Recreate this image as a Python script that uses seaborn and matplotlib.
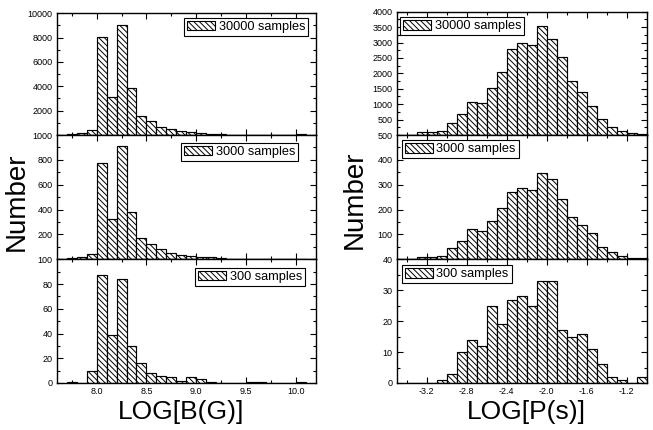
import numpy as np
import pandas as pd
import matplotlib
matplotlib.use("Agg")
import matplotlib.pyplot as plt
from matplotlib.ticker import MultipleLocator, FixedLocator
from matplotlib.patches import Patch
import seaborn as sns

# ---------------- data ----------------
# LOG[B(G)] histogram: bins of width 0.1 starting at 7.7
b_start = 7.7
b_width = 0.1
b_counts_30000 = [100, 200, 400, 8050, 3110, 9050, 3870, 1600, 1190, 680, 460, 300,
                  220, 130, 110, 100, 35, 30, 30, 25, 25, 10, 10, 50]
b_counts_3000 = [10, 16, 44, 775, 323, 914, 380, 169, 121, 81, 48, 38,
                 30, 19, 16, 11, 5, 5, 5, 5, 3, 3, 3, 5]
b_counts_300 = [1, 0, 10, 87, 39, 84, 30, 16, 8, 6, 5, 2,
                5, 3, 1, 0, 0, 0, 1, 1, 0, 0, 0, 1]

# LOG[P(s)] histogram: bins of width 0.1 starting at -3.4
p_start = -3.4
p_width = 0.1
p_counts_30000 = [0, 90, 95, 125, 405, 675, 1060, 1025, 1520, 2030, 2775, 2970,
                  2925, 3530, 3130, 2515, 1750, 1400, 940, 520, 265, 130, 55, 30]
p_counts_3000 = [0, 10, 9, 13, 45, 72, 121, 113, 153, 205, 270, 286,
                 278, 346, 321, 244, 172, 138, 105, 51, 31, 13, 4, 4]
p_counts_300 = [0, 0, 0, 1, 3, 10, 14, 12, 25, 19, 27, 28,
                25, 33, 33, 17, 15, 16, 11, 6, 2, 1, 0, 2]

sample_labels = ["30000 samples", "3000 samples", "300 samples"]
b_xticks = [8.0, 8.5, 9.0, 9.5, 10.0]
p_xticks = [-3.2, -2.8, -2.4, -2.0, -1.6, -1.2]

# ---------------- style ----------------
sns.set_style("ticks")
plt.rcParams["font.family"] = ["Liberation Sans", "DejaVu Sans"]
plt.rcParams["text.color"] = "black"
plt.rcParams["axes.labelcolor"] = "black"
plt.rcParams["hatch.linewidth"] = 0.7
plt.rcParams["hatch.color"] = "black"

HATCH = "\\" * 6
W, H = 653, 430
fig = plt.figure(figsize=(W / 100, H / 100), dpi=100)


def axes_rect(x0, x1, y0, y1):
    return [x0 / W, 1 - y1 / H, (x1 - x0) / W, (y1 - y0) / H]


def edges_from(start, width, n):
    return [round(start + width * i, 4) for i in range(n + 1)]


def draw(rect, start, width, counts, label, ymax, ystep, yminor, show_zero,
         xlim, xticks, xminor, bottom, loc, anchor):
    ax = fig.add_axes(rect)
    edges = edges_from(start, width, len(counts))
    centers = [(a + b) / 2 for a, b in zip(edges[:-1], edges[1:])]
    df = pd.DataFrame({"x": centers, "n": counts})
    sns.histplot(data=df, x="x", weights="n", bins=edges, ax=ax,
                 color="white", edgecolor="black", linewidth=0.85, alpha=1,
                 hatch=HATCH)
    ax.set_xlim(*xlim)
    ax.set_ylim(0, ymax)
    yt = np.arange(0 if show_zero else ystep, ymax + ystep / 2, ystep)
    ax.yaxis.set_major_locator(FixedLocator(yt))
    ax.yaxis.set_minor_locator(MultipleLocator(yminor))
    ax.xaxis.set_major_locator(FixedLocator(xticks))
    ax.xaxis.set_minor_locator(MultipleLocator(xminor))
    ax.set_xticklabels([f"{t:.1f}" for t in xticks])
    ax.set_yticklabels([f"{int(t)}" for t in yt])
    ax.tick_params(which="both", direction="in", top=True, right=True,
                   labelsize=6.5, colors="black", width=0.8, pad=3)
    ax.tick_params(which="major", length=4)
    ax.tick_params(which="minor", length=2)
    ax.tick_params(axis="x", labelbottom=bottom)
    ax.set_xlabel("")
    ax.set_ylabel("")
    for sp in ax.spines.values():
        sp.set_linewidth(1.0)
        sp.set_color("black")
    handle = Patch(facecolor="white", edgecolor="black", hatch=HATCH, linewidth=0.8)
    leg = ax.legend(handles=[handle], labels=[label], loc=loc,
                    bbox_to_anchor=(anchor[0] / W, 1 - anchor[1] / H),
                    bbox_transform=fig.transFigure, borderaxespad=0,
                    frameon=True, fancybox=False, framealpha=1,
                    edgecolor="black", fontsize=9.2, handlelength=2.2,
                    handleheight=0.8, borderpad=0.22, handletextpad=0.3)
    leg.get_frame().set_linewidth(0.8)
    return ax


# left column (LOG[B(G)])
lx0, lx1 = 56.7, 316.0
b_xlim = (7.6, 10.2)
draw(axes_rect(lx0, lx1, 13.3, 135), b_start, b_width, b_counts_30000, sample_labels[0],
     10000, 2000, 1000, False, b_xlim, b_xticks, 0.25, False, "upper right", (308.3, 17.7))
draw(axes_rect(lx0, lx1, 135, 259.3), b_start, b_width, b_counts_3000, sample_labels[1],
     1000, 200, 100, False, b_xlim, b_xticks, 0.25, False, "upper right", (297.7, 142.7))
draw(axes_rect(lx0, lx1, 259.3, 383), b_start, b_width, b_counts_300, sample_labels[2],
     100, 20, 10, True, b_xlim, b_xticks, 0.25, True, "upper right", (305.0, 267.7))

# right column (LOG[P(s)])
rx0, rx1 = 396.7, 646.7
p_xlim = (-3.5, -1.0)
draw(axes_rect(rx0, rx1, 11.7, 135), p_start, p_width, p_counts_30000, sample_labels[0],
     4000, 500, 250, False, p_xlim, p_xticks, 0.2, False, "upper left", (400.0, 17.3))
draw(axes_rect(rx0, rx1, 135, 259.3), p_start, p_width, p_counts_3000, sample_labels[1],
     500, 100, 50, False, p_xlim, p_xticks, 0.2, False, "upper left", (401.7, 140.0))
draw(axes_rect(rx0, rx1, 259.3, 383), p_start, p_width, p_counts_300, sample_labels[2],
     40, 10, 5, True, p_xlim, p_xticks, 0.2, True, "upper left", (401.7, 265.0))

# axis titles
fig.text(17 / W, 1 - 202 / H, "Number", rotation=90, fontsize=20,
         ha="center", va="center")
fig.text(355 / W, 1 - 200 / H, "Number", rotation=90, fontsize=20,
         ha="center", va="center")
fig.text(181 / W, 1 - 412 / H, "LOG[B(G)]", fontsize=19, ha="center", va="center")
fig.text(526 / W, 1 - 412 / H, "LOG[P(s)]", fontsize=19, ha="center", va="center")

fig.savefig("out.png", dpi=100, facecolor="white")
